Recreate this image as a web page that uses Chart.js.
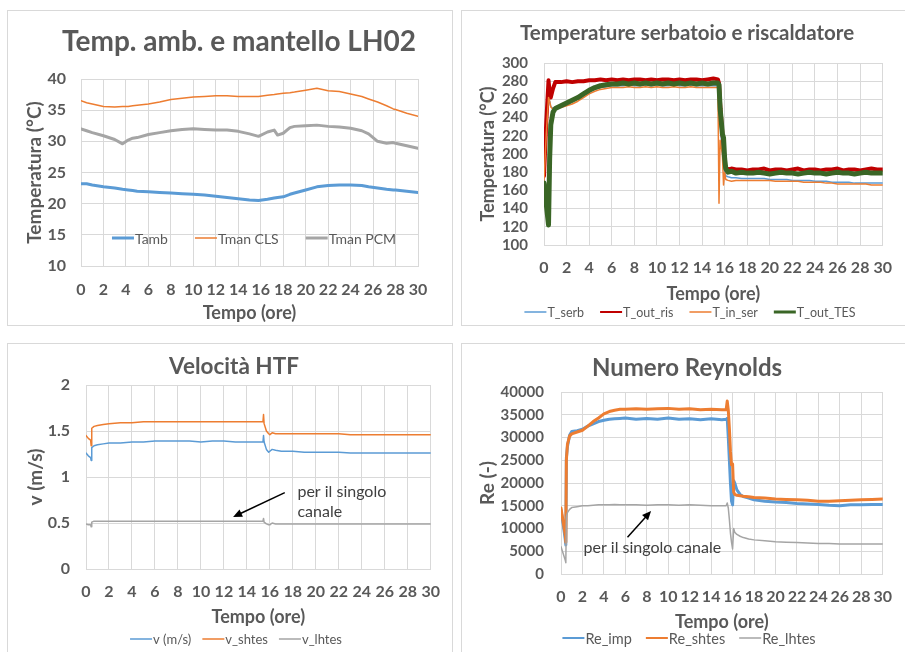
<!DOCTYPE html>
<html><head><meta charset="utf-8">
<script src="https://cdn.jsdelivr.net/npm/chart.js@4.4.1/dist/chart.umd.min.js"></script>
<style>
body{margin:0;background:#fff;width:905px;height:652px;overflow:hidden;position:relative}
.frame{position:absolute;border:1px solid #D9D9D9;box-sizing:border-box}
canvas{position:absolute}
</style></head><body>
<div class="frame" style="left:7px;top:10px;width:446px;height:316px"></div>
<div class="frame" style="left:461px;top:10px;width:460px;height:316px"></div>
<div class="frame" style="left:7px;top:343px;width:446px;height:330px"></div>
<div class="frame" style="left:461px;top:343px;width:460px;height:330px"></div>
<canvas id="c1" width="446" height="316" style="left:7px;top:10px"></canvas>
<canvas id="c2" width="444" height="316" style="left:461px;top:10px"></canvas>
<canvas id="c3" width="446" height="309" style="left:7px;top:343px"></canvas>
<canvas id="c4" width="444" height="309" style="left:461px;top:343px"></canvas>
<script>
// ---------- DATA ----------
// Panel 1: Temp. amb. e mantello LH02
const t1 = [0,0.5,1,2,3,3.7,4.2,4.6,5,6,7,8,9,10,11,12,13,14,15,15.8,16.6,17.2,17.5,18,18.6,19,20,21,22,23,24,25,25.6,26.4,27.2,27.8,28,29,30];
const tAmb = [23.2,23.2,23.0,22.7,22.5,22.3,22.2,22.1,22.0,21.9,21.8,21.7,21.6,21.5,21.4,21.2,21.0,20.8,20.6,20.5,20.7,20.9,21.0,21.1,21.5,21.7,22.2,22.7,22.9,23.0,23.0,22.9,22.7,22.5,22.3,22.2,22.2,22.0,21.8];
const tManCLS = [36.5,36.2,36.0,35.6,35.5,35.6,35.6,35.7,35.8,36.0,36.3,36.7,36.9,37.1,37.2,37.3,37.3,37.2,37.2,37.2,37.4,37.5,37.6,37.7,37.8,37.9,38.2,38.5,38.1,38.0,37.6,37.2,36.8,36.3,35.7,35.2,35.1,34.5,34.0];
const tManPCM = [32.0,31.7,31.4,30.9,30.3,29.6,30.2,30.5,30.6,31.1,31.4,31.7,31.9,32.0,31.9,31.8,31.8,31.6,31.2,30.8,31.5,31.8,31.0,31.3,32.2,32.4,32.5,32.6,32.4,32.3,32.1,31.7,31.2,30.0,29.7,29.8,29.7,29.3,28.9];

// Panel 2: Temperature serbatoio e riscaldatore
const t2 = [0,0.2,0.4,0.5,0.6,0.8,1,1.5,2,2.5,3,3.5,4,4.5,5,5.5,6,6.5,7,7.5,8,8.5,9,9.5,10,10.5,11,11.5,12,12.5,13,13.5,14,14.5,15,15.4,15.5,15.6,15.8,15.9,16,16.1,16.3,16.6,17,17.5,18,18.5,19,19.5,20,20.5,21,21.5,22,22.5,23,23.5,24,24.5,25,25.5,26,26.5,27,27.5,28,28.5,29,29.5,30];
const tSerb = [172,225,260,258,252,250,251,
  253,255,258,261,265,268,271,273,274,275,275,275,276,275,275,276,275,276,275,275,276,275,275,276,275,275,275,275,
  275,270,235,200,188,180,176,175,174,
  174,173,173,173,173,173,172,172,172,172,171,171,171,171,170,170,170,169,169,169,169,168,168,168,168,168,168];
const tOutRis = [176,235,281,268,262,272,279,
  279,280,279,280,280,281,281,282,281,282,281,282,281,282,282,281,282,281,282,282,281,282,281,282,282,281,282,283,
  282,278,255,222,212,188,185,183,184,
  183,183,182,183,183,184,182,183,183,182,183,184,182,183,183,182,183,183,184,182,183,183,182,183,184,183,183];
const tInSer = [170,222,262,258,252,249,250,
  251,253,255,258,262,266,269,271,272,273,273,273,274,273,273,274,273,274,273,273,274,273,273,274,273,273,273,273,
  273,146,215,200,166,180,172,171,170,
  171,171,171,171,171,171,171,170,170,170,170,170,169,169,169,169,168,168,167,167,167,167,167,167,166,166,166];
const tOutTES = [168,145,122,195,232,246,250,
  253,256,259,262,266,270,273,275,276,277,277,278,277,278,277,278,277,278,277,278,277,278,277,278,277,278,277,278,
  278,276,250,222,218,195,184,180,181,
  179,180,179,179,180,179,178,179,180,179,179,178,179,180,179,179,178,179,180,179,179,178,179,180,179,179,179];

// Panel 3: Velocità HTF
const t3 = [0,0.2,0.4,0.45,0.5,0.7,1,1.5,2,3,4,5,6,7,8,9,10,11,12,13,14,15,15.4,15.45,15.5,15.7,15.9,16,16.2,16.5,17,18,19,20,21,22,23,24,25,26,27,28,29,30];
const vMs = [1.26,1.23,1.21,1.18,1.32,1.34,1.35,1.36,1.37,
  1.37,1.38,1.38,1.39,1.39,1.39,1.39,1.38,1.39,1.39,1.38,1.38,1.38,
  1.38,1.45,1.38,1.30,1.27,1.28,1.30,1.29,
  1.28,1.28,1.27,1.27,1.27,1.27,1.26,1.26,1.26,1.26,1.26,1.26,1.26,1.26];
const vShtes = [1.45,1.42,1.40,1.34,1.53,1.55,1.56,1.57,1.58,
  1.59,1.59,1.60,1.60,1.60,1.60,1.60,1.60,1.60,1.60,1.60,1.60,1.60,
  1.60,1.68,1.58,1.50,1.47,1.46,1.48,1.47,
  1.47,1.47,1.47,1.47,1.47,1.47,1.46,1.46,1.46,1.46,1.46,1.46,1.46,1.46];
const vLhtes = [0.49,0.48,0.48,0.46,0.51,0.52,0.52,0.52,0.52,
  0.52,0.52,0.52,0.52,0.52,0.52,0.52,0.52,0.52,0.52,0.52,0.52,0.52,
  0.52,0.55,0.51,0.49,0.48,0.48,0.50,0.49,
  0.49,0.49,0.49,0.49,0.49,0.49,0.49,0.49,0.49,0.49,0.49,0.49,0.49,0.49];

// Panel 4: Numero Reynolds
const t4 = [0,0.2,0.4,0.45,0.5,0.6,0.8,1,1.5,2,2.5,3,3.5,4,4.5,5,5.5,6,7,8,9,10,11,12,13,14,15,15.4,15.5,15.6,15.7,15.8,15.9,16,16.1,16.2,16.4,16.7,17,17.5,18,19,20,21,22,23,24,25,26,27,28,29,30];
const reImp = [14000,11000,7500,6400,25500,28000,30500,31300,
  31500,31800,32500,33000,33500,33800,34000,34100,34200,34300,
  34000,34200,34000,34300,34000,34100,33900,34100,33900,
  34000,34200,30000,25000,20000,16000,15200,20500,20000,18500,17500,
  17000,16700,16300,
  16000,15800,15700,15500,15400,15300,15100,15000,15200,15200,15300,15300];
const reShtes = [14500,11500,8500,7000,25000,28500,30300,30800,
  31200,31600,32500,33500,34300,35200,35700,36000,36200,36200,
  36300,36200,36300,36400,36200,36300,36100,36200,36100,
  36100,38000,36000,32000,27000,24000,24200,18000,17500,17300,17200,
  17100,17000,16800,
  16700,16500,16400,16300,16200,16000,16000,16100,16200,16300,16400,16500];
const reLhtes = [6000,4500,3000,2500,12500,13500,14200,14600,
  14800,15000,15000,15100,15200,15200,15200,15300,15200,15200,
  15200,15100,15200,15200,15100,15200,15100,15000,15000,
  15000,15600,14500,12000,9000,7000,5500,10000,9200,8700,8300,
  8000,7700,7500,
  7300,7100,7000,6900,6800,6700,6700,6600,6600,6600,6600,6600];

// ---------- STYLE ----------
const FONT = "Lato, 'Open Sans', sans-serif";
const TXT = '#595959';
const GRID = '#D9D9D9';
const BLUE = '#5B9BD5', ORANGE = '#ED7D31', GRAY = '#A5A5A5', RED = '#C00000', GREEN = '#3A6626';

function build(id, o) {
  const el = document.getElementById(id);
  const n = o.series.length;
  const decor = {
    id: 'decor',
    afterDraw(chart) {
      const c = chart.ctx;
      c.save();
      c.fillStyle = TXT;
      c.font = 'bold ' + o.title.size + 'px ' + FONT;
      c.textAlign = 'center'; c.textBaseline = 'middle';
      c.fillText(o.title.text, o.title.x, o.title.y);
      c.font = o.legend.size + 'px ' + FONT;
      const mk = 22, gap1 = 1;
      const widths = o.series.map(s => mk + gap1 + c.measureText(s.label).width);
      const total = widths.reduce((a, b) => a + b, 0) + o.legend.gap * (n - 1);
      let x = o.legend.cx - total / 2;
      const y = o.legend.y;
      o.series.forEach((s, i) => {
        c.strokeStyle = s.color; c.lineWidth = s.lw || s.w;
        c.beginPath(); c.moveTo(x, y); c.lineTo(x + mk, y); c.stroke();
        c.fillStyle = TXT; c.textAlign = 'left'; c.textBaseline = 'middle';
        c.fillText(s.label, x + mk + gap1, y + 1);
        x += widths[i] + o.legend.gap;
      });
      if (o.note) {
        const xs = chart.scales.x, ys = chart.scales.y;
        const a = o.note;
        const x0 = xs.getPixelForValue(a.from[0]), y0 = ys.getPixelForValue(a.from[1]);
        const x1 = xs.getPixelForValue(a.to[0]), y1 = ys.getPixelForValue(a.to[1]);
        const ang = Math.atan2(y1 - y0, x1 - x0);
        c.strokeStyle = '#000'; c.fillStyle = '#000'; c.lineWidth = 1.5;
        c.beginPath(); c.moveTo(x0, y0);
        c.lineTo(x1 - 7 * Math.cos(ang), y1 - 7 * Math.sin(ang)); c.stroke();
        c.beginPath(); c.moveTo(x1, y1);
        c.lineTo(x1 - 9 * Math.cos(ang) + 4 * Math.sin(ang), y1 - 9 * Math.sin(ang) - 4 * Math.cos(ang));
        c.lineTo(x1 - 9 * Math.cos(ang) - 4 * Math.sin(ang), y1 - 9 * Math.sin(ang) + 4 * Math.cos(ang));
        c.closePath(); c.fill();
        c.fillStyle = '#404040'; c.font = a.size + 'px ' + FONT;
        c.textAlign = 'left'; c.textBaseline = 'middle';
        const tx = xs.getPixelForValue(a.text[0]), ty = ys.getPixelForValue(a.text[1]);
        a.lines.forEach((ln, k) => c.fillText(ln, tx, ty + k * a.lh));
      }
      c.restore();
    }
  };
  return new Chart(el, {
    type: 'line',
    data: {
      datasets: o.series.map((s, i) => ({
        label: s.label,
        data: s.t.map((t, j) => ({ x: t, y: s.v[j] })),
        borderColor: s.color, backgroundColor: s.color, borderWidth: s.w,
        pointRadius: 0, tension: 0, fill: false, order: n - i,
        borderJoinStyle: 'round', borderCapStyle: 'round'
      }))
    },
    options: {
      responsive: false, animation: false, devicePixelRatio: 1,
      layout: { padding: { left: 0, top: o.area.t, right: o.W - o.area.r, bottom: 0 } },
      plugins: { legend: { display: false }, tooltip: { enabled: false }, title: { display: false } },
      scales: {
        x: {
          type: 'linear', min: 0, max: 30,
          afterFit: s => { s.height = o.H - o.area.b; },
          ticks: { stepSize: 2, autoSkip: false, maxRotation: 0, padding: o.x.pad, color: TXT,
                   font: { family: FONT, size: o.x.size, weight: 'bold' }, callback: v => String(v) },
          grid: { color: GRID, drawTicks: false, lineWidth: 1 },
          border: { color: GRID },
          title: { display: true, text: 'Tempo (ore)', color: TXT,
                   font: { family: FONT, size: 18, weight: 'bold' }, padding: { top: 0, bottom: o.x.tpad } }
        },
        y: {
          type: 'linear', min: o.y.min, max: o.y.max,
          afterFit: s => { s.width = o.area.l; },
          ticks: { stepSize: o.y.step, autoSkip: false, padding: o.y.pad, color: TXT,
                   font: { family: FONT, size: o.y.size, weight: 'bold' }, callback: v => String(v) },
          grid: { color: GRID, drawTicks: false, lineWidth: 1 },
          border: { color: GRID },
          title: { display: true, text: o.y.title, color: TXT,
                   font: { family: FONT, size: o.y.tsize, weight: 'bold' }, padding: { top: o.y.tpad, bottom: 0 } }
        }
      }
    },
    plugins: [decor]
  });
}

build('c1', {
  W: 446, H: 316, area: { l: 74, t: 69, r: 411, b: 256 },
  x: { size: 16, pad: 14, tpad: 2 },
  y: { min: 10, max: 40, step: 5, size: 16, pad: 15, title: 'Temperatura (°C)', tsize: 19, tpad: 16 },
  title: { text: 'Temp. amb. e mantello LH02', size: 28, x: 232, y: 32 },
  legend: { size: 14, cx: 247, y: 228, gap: 27 },
  series: [
    { label: 'Tamb', t: t1, v: tAmb, color: BLUE, w: 3 },
    { label: 'Tman CLS', t: t1, v: tManCLS, color: ORANGE, w: 1.5 },
    { label: 'Tman PCM', t: t1, v: tManPCM, color: GRAY, w: 3 }
  ]
});

build('c2', {
  W: 444, H: 316, area: { l: 83, t: 53, r: 432, b: 235 },
  x: { size: 16, pad: 13, tpad: 21 },
  y: { min: 100, max: 300, step: 20, size: 15, pad: 16, title: 'Temperatura (°C)', tsize: 18, tpad: 16 },
  title: { text: 'Temperature serbatoio e riscaldatore', size: 20.5, x: 226, y: 23 },
  legend: { size: 12.5, cx: 229, y: 302, gap: 16 },
  series: [
    { label: 'T_serb', t: t2, v: tSerb, color: BLUE, w: 1.5 },
    { label: 'T_out_ris', t: t2, v: tOutRis, color: RED, w: 4, lw: 2 },
    { label: 'T_in_ser', t: t2, v: tInSer, color: ORANGE, w: 1.5 },
    { label: 'T_out_TES', t: t2, v: tOutTES, color: GREEN, w: 5, lw: 3 }
  ]
});

build('c3', {
  W: 446, H: 309, area: { l: 79, t: 42, r: 433, b: 226 },
  x: { size: 16, pad: 13, tpad: 24 },
  y: { min: 0, max: 2, step: 0.5, size: 16, pad: 16, title: 'v (m/s)', tsize: 19, tpad: 17 },
  title: { text: 'Velocità HTF', size: 22.5, x: 227, y: 24 },
  legend: { size: 13, cx: 229, y: 296, gap: 11 },
  note: { from: [17.3, 0.83], to: [12.8, 0.565], text: [18.4, 0.837], lines: ['per il singolo', 'canale'], lh: 20, size: 16 },
  series: [
    { label: 'v (m/s)', t: t3, v: vMs, color: BLUE, w: 1.5 },
    { label: 'v_shtes', t: t3, v: vShtes, color: ORANGE, w: 1.5 },
    { label: 'v_lhtes', t: t3, v: vLhtes, color: GRAY, w: 1.5 }
  ]
});

build('c4', {
  W: 444, H: 309, area: { l: 100, t: 49, r: 432, b: 231 },
  x: { size: 16, pad: 13, tpad: 19 },
  y: { min: 0, max: 40000, step: 5000, size: 15, pad: 17, title: 'Re (-)', tsize: 19, tpad: 15 },
  title: { text: 'Numero Reynolds', size: 24, x: 226, y: 25 },
  legend: { size: 14.5, cx: 228, y: 295, gap: 14 },
  note: { from: [6.2, 8100], to: [8.4, 13850], text: [2.1, 5700], lines: ['per il singolo canale'], lh: 20, size: 16 },
  series: [
    { label: 'Re_imp', t: t4, v: reImp, color: BLUE, w: 3, lw: 2 },
    { label: 'Re_shtes', t: t4, v: reShtes, color: ORANGE, w: 3, lw: 2 },
    { label: 'Re_lhtes', t: t4, v: reLhtes, color: GRAY, w: 1.5 }
  ]
});
</script>
</body></html>
